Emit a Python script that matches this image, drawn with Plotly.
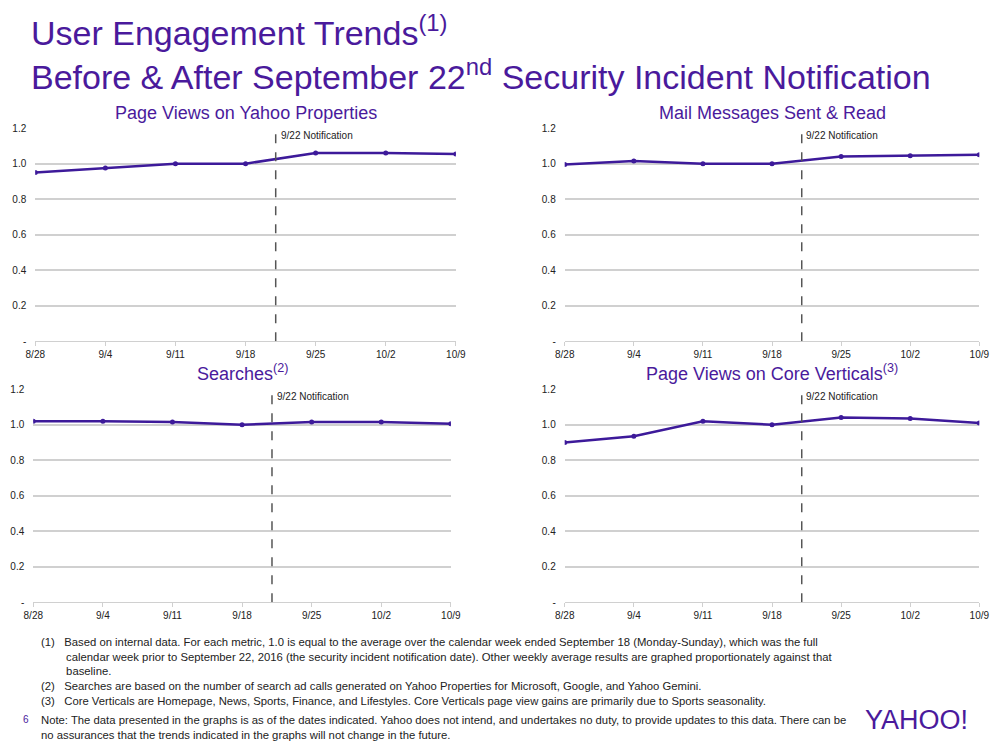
import plotly.graph_objects as go

weeks = ["8/28", "9/4", "9/11", "9/18", "9/25", "10/2", "10/9"]
pv_yahoo = [0.95, 0.975, 1.0, 1.0, 1.06, 1.06, 1.055]
mail = [0.995, 1.015, 1.0, 1.0, 1.04, 1.045, 1.05]
searches = [1.02, 1.02, 1.015, 1.0, 1.015, 1.015, 1.005]
core = [0.90, 0.935, 1.02, 1.0, 1.04, 1.035, 1.01]
titles = ["Page Views on Yahoo Properties", "Mail Messages Sent & Read",
          "Searches<sup>(2)</sup>", "Page Views on Core Verticals<sup>(3)</sup>"]
yticks = [0, 0.2, 0.4, 0.6, 0.8, 1.0, 1.2]
yticklabels = ["-", "0.2", "0.4", "0.6", "0.8", "1.0", "1.2"]
notif_x = 3.43

PURPLE = "#4a1a9c"
LINE = "#3d1a9a"
W, H = 1000, 748
def px(x): return ((x - 8.7) / 0.981) / W
def py(y): return 1 - ((y - 4.9) / 0.985) / H

panels = [
    (pv_yahoo, (34, 455), (127, 340)),
    (mail, (564, 979), (127, 340)),
    (searches, (32, 450), (388, 601)),
    (core, (564, 979), (388, 601)),
]

fig = go.Figure()
layout = {}
for i, (vals, (x0, x1), (y0, y1)) in enumerate(panels):
    n = "" if i == 0 else str(i + 1)
    fig.add_trace(go.Scatter(x=list(range(len(weeks))), y=vals, mode="lines+markers",
                             line=dict(color=LINE, width=2.5), marker=dict(size=5, color=LINE),
                             xaxis="x" + n, yaxis="y" + n, showlegend=False, hoverinfo="skip"))
    layout["xaxis" + n] = dict(domain=[px(x0), px(x1)], range=[0, 6], anchor="y" + n,
                               tickvals=list(range(len(weeks))), ticktext=weeks,
                               showgrid=False, zeroline=False, showline=True, linecolor="#d0d0d0",
                               ticks="outside", ticklen=4, tickcolor="#d0d0d0",
                               tickfont=dict(size=10, color="#222", family="Arial"))
    layout["yaxis" + n] = dict(domain=[py(y1), py(y0)], range=[0, 1.2], anchor="x" + n,
                               tickvals=yticks, ticktext=yticklabels, showgrid=True,
                               gridcolor="#d0d0d0", gridwidth=1.5, zeroline=False, ticklabelstandoff=8,
                               tickfont=dict(size=10, color="#222", family="Arial"))
    xr = "x" + n; yr = "y" + n
    fig.add_shape(type="line", xref=xr, yref=yr, x0=notif_x, x1=notif_x, y0=0, y1=1.2,
                  line=dict(color="#555", width=1.5, dash="dash"))
    fig.add_annotation(xref=xr, yref=yr, x=notif_x + 0.04, y=1.2, text="9/22 Notification",
                       showarrow=False, xanchor="left", yanchor="top",
                       font=dict(size=10, color="#222", family="Arial"))
    fig.add_annotation(xref="paper", yref="paper", x=(px(x0) + px(x1)) / 2, y=py(y0 - 3),
                       text=titles[i], showarrow=False, xanchor="center", yanchor="bottom",
                       font=dict(size=18, color=PURPLE, family="Arial"))

fig.add_annotation(xref="paper", yref="paper", x=px(28), y=py(6), xanchor="left", yanchor="top",
                   align="left", showarrow=False,
                   text="User Engagement Trends<sup>(1)</sup><br>Before & After September 22<sup>nd</sup> Security Incident Notification",
                   font=dict(size=34, color=PURPLE, family="Arial"))

foot = ("(1)   Based on internal data. For each metric, 1.0 is equal to the average over the calendar week ended September 18 (Monday-Sunday), which was the full<br>"
        "        calendar week prior to September 22, 2016 (the security incident notification date). Other weekly average results are graphed proportionately against that<br>"
        "        baseline.<br>"
        "(2)   Searches are based on the number of search ad calls generated on Yahoo Properties for Microsoft, Google, and Yahoo Gemini.<br>"
        "(3)   Core Verticals are Homepage, News, Sports, Finance, and Lifestyles. Core Verticals page view gains are primarily due to Sports seasonality.")
fig.add_annotation(xref="paper", yref="paper", x=px(38), y=py(633), xanchor="left", yanchor="top",
                   align="left", showarrow=False, text=foot,
                   font=dict(size=11.3, color="#222", family="Arial"))
fig.add_annotation(xref="paper", yref="paper", x=px(38), y=py(711), xanchor="left", yanchor="top",
                   align="left", showarrow=False,
                   text="Note: The data presented in the graphs is as of the dates indicated. Yahoo does not intend, and undertakes no duty, to provide updates to this data. There can be<br>no assurances that the trends indicated in the graphs will not change in the future.",
                   font=dict(size=11.3, color="#222", family="Arial"))
fig.add_annotation(xref="paper", yref="paper", x=px(20), y=py(711), xanchor="left", yanchor="top",
                   showarrow=False, text="6", font=dict(size=10, color=PURPLE, family="Arial"))
fig.add_annotation(xref="paper", yref="paper", x=px(970), y=py(702), xanchor="right", yanchor="top",
                   showarrow=False, text="YAHOO!", font=dict(size=27, color=PURPLE, family="Liberation Sans Narrow, Arial"))

fig.update_layout(width=W, height=H, margin=dict(l=0, r=0, t=0, b=0),
                  paper_bgcolor="white", plot_bgcolor="white", **layout)
fig.write_html("out.html", config={"displayModeBar": False},
               post_script="document.body.style.margin='0';document.body.style.overflow='hidden';")
